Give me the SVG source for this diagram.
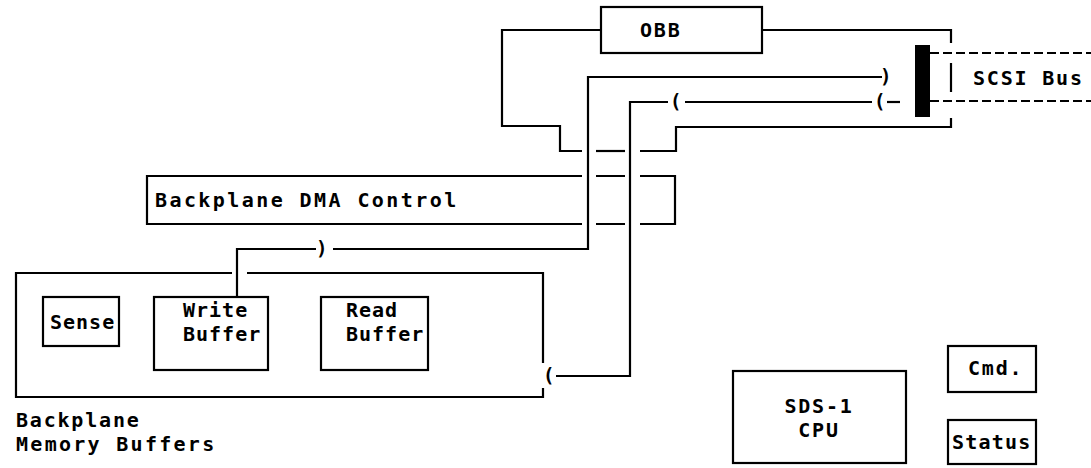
<svg xmlns="http://www.w3.org/2000/svg" width="1091" height="468" viewBox="0 0 1091 468">
  <style>
    .box { fill: none; stroke: #000; stroke-width: 2.2; }
    .ln { fill: none; stroke: #000; stroke-width: 2.2; }
    .dash { fill: none; stroke: #000; stroke-width: 2.2; stroke-dasharray: 9 4; }
    text { font-family: "DejaVu Sans Mono", "Liberation Mono", monospace; font-size: 20px; font-weight: bold; fill: #000; letter-spacing: 1.8px; }
    text.mark { letter-spacing: 0; font-size: 19px; }
    text.inbox { letter-spacing: 1px; }
  </style>
  <rect width="1091" height="468" fill="#fff"/>

  <!-- connectors and bus wiring -->
  <g id="connectors">
    <!-- OBB left side, stepping down past the DMA control -->
    <path class="ln" d="M601,30 H502 V126 H560 V151 H582"/>
    <path class="ln" d="M596,151 H625"/>
    <!-- OBB right side to the SCSI bus bracket -->
    <path class="ln" d="M762,30 H951 V43"/>
    <path class="ln" d="M951,63 V92"/>
    <path class="ln" d="M951,118 V127 H676 V151 H640"/>
    <!-- write path: write buffer up to the SCSI bus -->
    <path class="ln" d="M237,297 V249 H316"/>
    <text class="mark" x="316" y="255">)</text>
    <path class="ln" d="M333,249 H588 V77 H882"/>
    <text class="mark" x="880" y="83">)</text>
    <!-- read path: SCSI bus down to the read buffer -->
    <path class="ln" d="M900,102 H887"/>
    <text class="mark" x="874" y="108">(</text>
    <path class="ln" d="M872,102 H685"/>
    <text class="mark" x="670" y="108">(</text>
    <path class="ln" d="M668,102 H630 V376 H556"/>
    <text class="mark" x="543" y="382">(</text>
    <!-- SCSI bus lines -->
    <path class="dash" d="M930,53 H1091"/>
    <path class="dash" d="M930,101 H1091"/>
  </g>

  <g id="obb">
    <rect class="box" x="601" y="7" width="161" height="46"/>
    <text x="640" y="37">OBB</text>
  </g>

  <g id="scsi-bus">
    <rect x="915" y="45" width="15" height="72" fill="#000"/>
    <text x="973" y="85">SCSI Bus</text>
  </g>

  <g id="dma-control">
    <path class="ln" d="M582,176 H147 V224 H582"/>
    <path class="ln" d="M596,176 H625 M596,224 H625"/>
    <path class="ln" d="M640,176 H675 V224 H640"/>
    <text x="155" y="207" textLength="303">Backplane DMA Control</text>
  </g>

  <g id="memory-buffers">
    <path class="ln" d="M232,273 H16 V397 H543 V388"/>
    <path class="ln" d="M247,273 H543 V363"/>
    <text x="16" y="427">Backplane</text>
    <text x="16" y="451" textLength="200">Memory Buffers</text>
  </g>

  <g id="sense">
    <rect class="box" x="43" y="297" width="76" height="49"/>
    <text class="inbox" x="50" y="329">Sense</text>
  </g>

  <g id="write-buffer">
    <rect class="box" x="154" y="297" width="114" height="73"/>
    <text class="inbox" x="183" y="317">Write</text>
    <text class="inbox" x="183" y="341">Buffer</text>
  </g>

  <g id="read-buffer">
    <rect class="box" x="321" y="297" width="107" height="73"/>
    <text class="inbox" x="346" y="317">Read</text>
    <text class="inbox" x="346" y="341">Buffer</text>
  </g>

  <g id="cpu">
    <rect class="box" x="733" y="371" width="173" height="92"/>
    <text x="819" y="413" text-anchor="middle">SDS-1</text>
    <text x="819" y="437" text-anchor="middle">CPU</text>
  </g>

  <g id="cmd">
    <rect class="box" x="948" y="346" width="88" height="46"/>
    <text x="968" y="375">Cmd.</text>
  </g>

  <g id="status">
    <rect class="box" x="948" y="420" width="88" height="44"/>
    <text x="952" y="449" style="letter-spacing:1.2px">Status</text>
  </g>
</svg>
